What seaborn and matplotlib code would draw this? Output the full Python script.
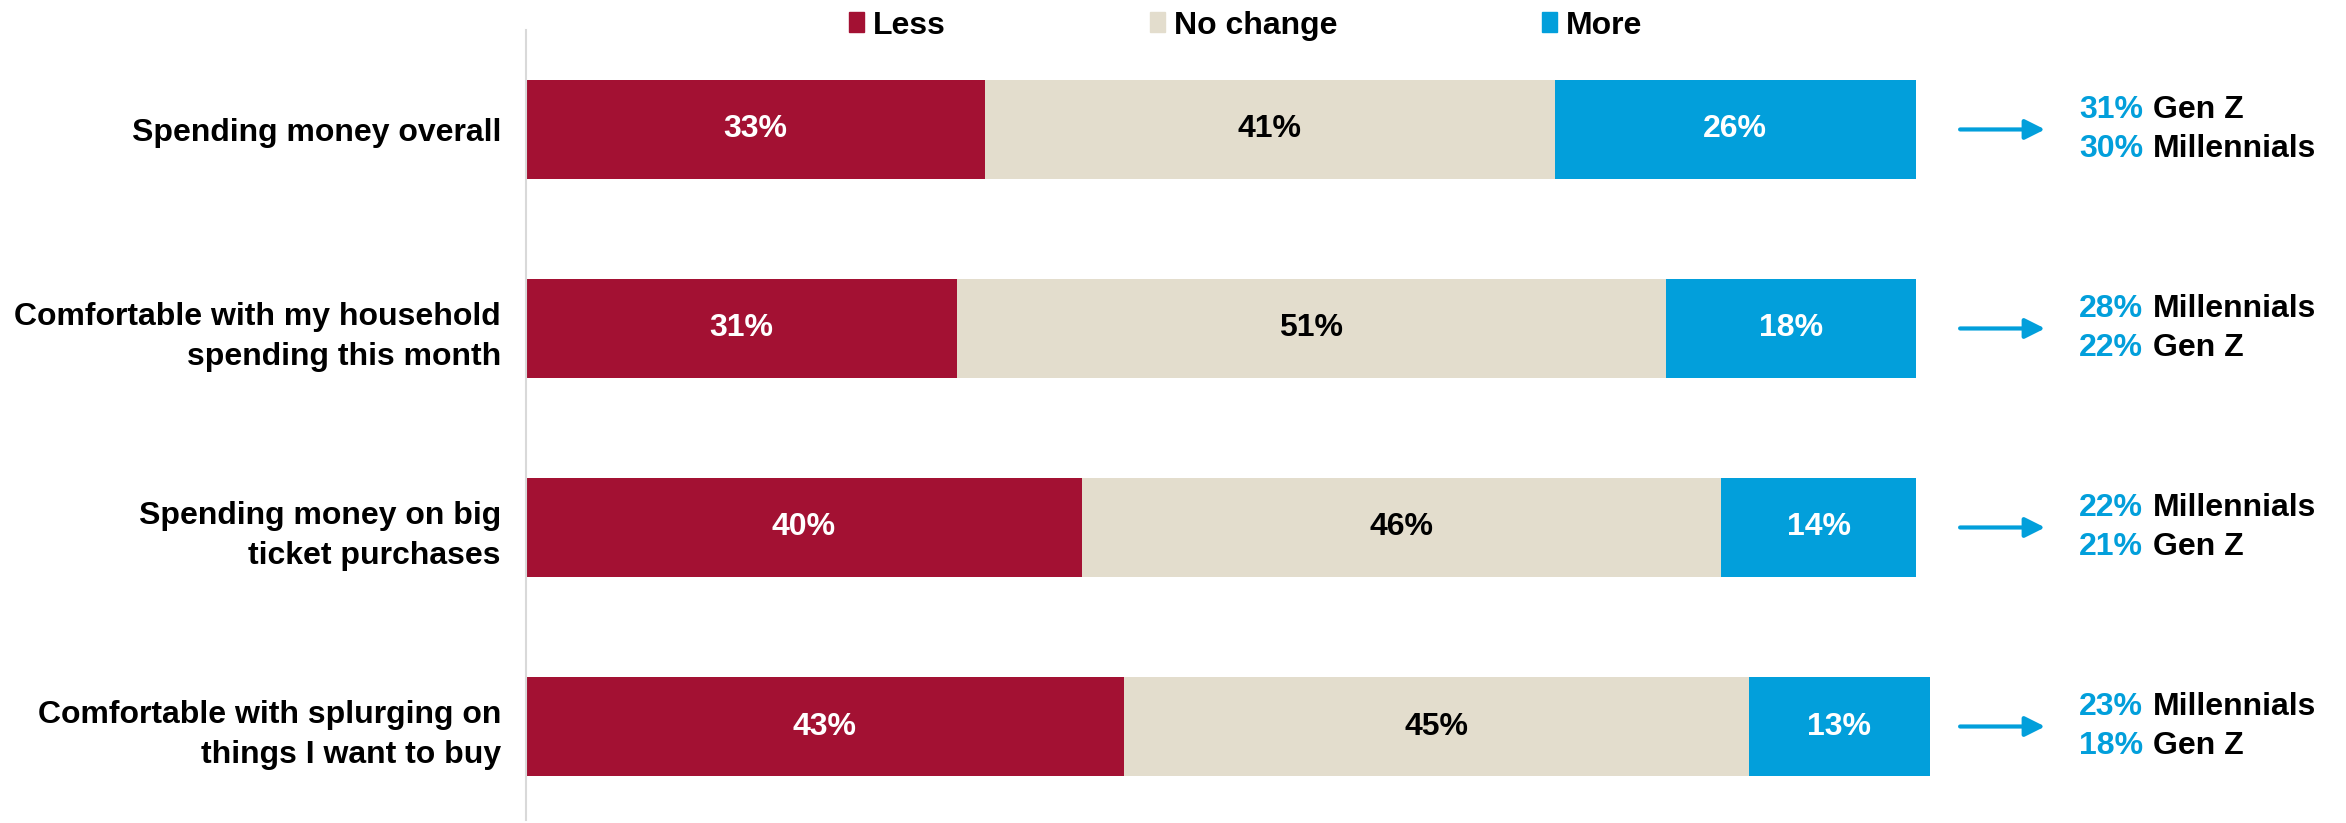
import matplotlib
matplotlib.use("Agg")
import matplotlib.pyplot as plt
import matplotlib.transforms as mtransforms
from matplotlib import font_manager
from matplotlib.patches import Patch
import seaborn as sns
import pandas as pd

categories = ['Spending money overall',
              'Comfortable with my household\nspending this month',
              'Spending money on big\nticket purchases',
              'Comfortable with splurging on\nthings I want to buy']
less = [33, 31, 40, 43]
no_change = [41, 51, 46, 45]
more = [26, 18, 14, 13]

top_pct = ['31%', '28%', '22%', '23%']
top_group = ['Gen Z', 'Millennials', 'Millennials', 'Millennials']
bottom_pct = ['30%', '22%', '21%', '18%']
bottom_group = ['Millennials', 'Gen Z', 'Gen Z', 'Gen Z']

RED = '#A31133'
BEIGE = '#E3DDCD'
BLUE = '#029FDB'

sns.set_theme(style='white')
plt.rcParams['font.family'] = ['Liberation Sans', 'DejaVu Sans']
plt.rcParams['font.weight'] = 'bold'
plt.rcParams['text.color'] = 'black'

# narrow face for bar values and legend, if it is there
try:
    font_manager.findfont('Liberation Sans Narrow', fallback_to_default=False)
    narrow, nsize = ['Liberation Sans Narrow', 'Liberation Sans'], 27
except Exception:
    narrow, nsize = ['Liberation Sans', 'DejaVu Sans'], 23

df = pd.DataFrame({'cat': categories, 'less': less, 'nochange': no_change, 'more': more})
df['c1'] = df['less']
df['c2'] = df['less'] + df['nochange']
df['c3'] = df['c2'] + df['more']

fig = plt.figure(figsize=(23.46, 8.23), dpi=100)
ax = fig.add_axes([0.2242, 0.0036, 0.5984, 0.96])

# stacked bars: draw totals first, then overlay shorter segments
sns.barplot(data=df, x='c3', y='cat', color=BLUE, width=0.5, orient='h', ax=ax, saturation=1)
sns.barplot(data=df, x='c2', y='cat', color=BEIGE, width=0.5, orient='h', ax=ax, saturation=1)
sns.barplot(data=df, x='c1', y='cat', color=RED, width=0.5, orient='h', ax=ax, saturation=1)
for p in ax.patches:
    p.set_linewidth(0)
    p.set_clip_on(False)

ax.set_xlim(0, 101)
ax.set_ylim(3.47, -0.5)
ax.set_xlabel('')
ax.set_ylabel('')
ax.set_xticks([])
for s in ['top', 'right', 'bottom']:
    ax.spines[s].set_visible(False)
ax.spines['left'].set_color('#D9D9D9')
ax.spines['left'].set_linewidth(1.5)
ax.tick_params(axis='y', length=0, pad=18, labelcolor='black')
for lbl in ax.get_yticklabels():
    lbl.set_fontsize(23)
    lbl.set_fontweight('bold')
    lbl.set_horizontalalignment('right')
    lbl.set_linespacing(1.45)

for i in range(len(categories)):
    ax.text(less[i] / 2, i, f'{less[i]}%', ha='center', va='center',
            color='white', fontsize=nsize, fontweight='bold', family=narrow)
    ax.text(less[i] + no_change[i] / 2, i, f'{no_change[i]}%', ha='center', va='center',
            color='black', fontsize=nsize, fontweight='bold', family=narrow)
    ax.text(less[i] + no_change[i] + more[i] / 2, i, f'{more[i]}%', ha='center', va='center',
            color='white', fontsize=nsize, fontweight='bold', family=narrow)

trans = mtransforms.blended_transform_factory(fig.transFigure, ax.transData)
for i in range(len(categories)):
    ax.annotate('', xy=(0.8717, i), xytext=(0.8355, i), xycoords=trans, textcoords=trans,
                arrowprops=dict(arrowstyle='-|>', color=BLUE, lw=3, mutation_scale=30,
                                shrinkA=0, shrinkB=0), annotation_clip=False)
    ax.text(0.8862, i - 0.098, top_pct[i], transform=trans, color=BLUE,
            fontsize=23, fontweight='bold', va='center', ha='left')
    ax.text(0.9177, i - 0.098, top_group[i], transform=trans, color='black',
            fontsize=23, fontweight='bold', va='center', ha='left')
    ax.text(0.8862, i + 0.098, bottom_pct[i], transform=trans, color=BLUE,
            fontsize=23, fontweight='bold', va='center', ha='left')
    ax.text(0.9177, i + 0.098, bottom_group[i], transform=trans, color='black',
            fontsize=23, fontweight='bold', va='center', ha='left')

handles = [Patch(color=RED, label='Less'), Patch(color=BEIGE, label='No change'),
           Patch(color=BLUE, label='More')]
fig.legend(handles=handles, loc='center', bbox_to_anchor=(0.531, 0.969), ncol=3,
           frameon=False, handlelength=0.47, handleheight=0.6,
           handletextpad=0.28, columnspacing=6.4,
           prop={'weight': 'bold', 'size': nsize, 'family': narrow})

fig.savefig('out.png', dpi=100)
